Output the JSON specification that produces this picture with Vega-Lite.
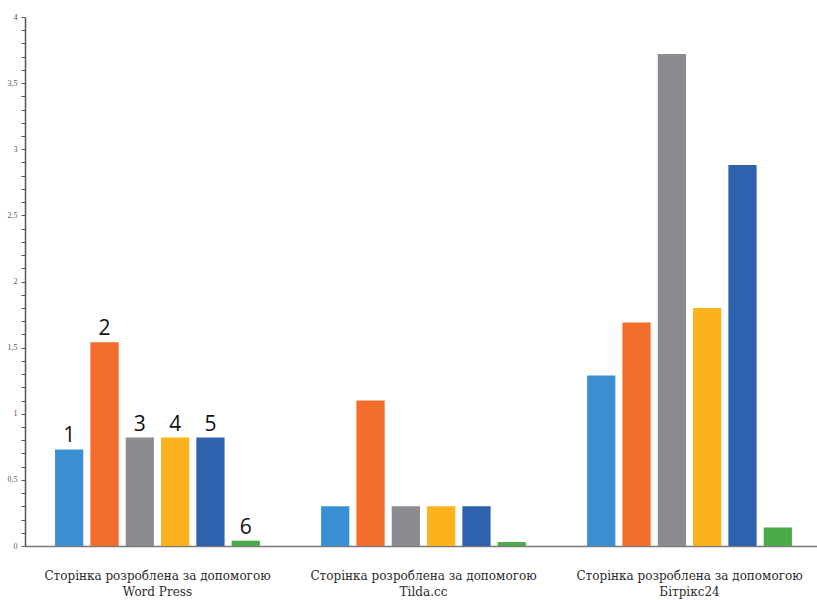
{
  "$schema": "https://vega.github.io/schema/vega-lite/v6.json",
  "autosize": "none",
  "width": 797,
  "height": 529,
  "padding": {"left": 25, "top": 17, "right": 0, "bottom": 54},
  "background": "white",
  "data": {
    "values": [
      {"g": "Сторінка розроблена за допомогою Word Press", "s": "1", "v": 0.73},
      {"g": "Сторінка розроблена за допомогою Word Press", "s": "2", "v": 1.54},
      {"g": "Сторінка розроблена за допомогою Word Press", "s": "3", "v": 0.82},
      {"g": "Сторінка розроблена за допомогою Word Press", "s": "4", "v": 0.82},
      {"g": "Сторінка розроблена за допомогою Word Press", "s": "5", "v": 0.82},
      {"g": "Сторінка розроблена за допомогою Word Press", "s": "6", "v": 0.04},
      {"g": "Сторінка розроблена за допомогою Tilda.cc", "s": "1", "v": 0.3},
      {"g": "Сторінка розроблена за допомогою Tilda.cc", "s": "2", "v": 1.1},
      {"g": "Сторінка розроблена за допомогою Tilda.cc", "s": "3", "v": 0.3},
      {"g": "Сторінка розроблена за допомогою Tilda.cc", "s": "4", "v": 0.3},
      {"g": "Сторінка розроблена за допомогою Tilda.cc", "s": "5", "v": 0.3},
      {"g": "Сторінка розроблена за допомогою Tilda.cc", "s": "6", "v": 0.03},
      {"g": "Сторінка розроблена за допомогою Бітрікс24", "s": "1", "v": 1.29},
      {"g": "Сторінка розроблена за допомогою Бітрікс24", "s": "2", "v": 1.69},
      {"g": "Сторінка розроблена за допомогою Бітрікс24", "s": "3", "v": 3.72},
      {"g": "Сторінка розроблена за допомогою Бітрікс24", "s": "4", "v": 1.8},
      {"g": "Сторінка розроблена за допомогою Бітрікс24", "s": "5", "v": 2.88},
      {"g": "Сторінка розроблена за допомогою Бітрікс24", "s": "6", "v": 0.14}
    ]
  },
  "encoding": {
    "x": {
      "field": "g",
      "type": "nominal",
      "sort": null,
      "title": null,
      "scale": {"paddingInner": 0.23, "paddingOuter": 0.113},
      "axis": {
        "labelAngle": 0,
        "ticks": false,
        "domainColor": "#7a7a7a",
        "domainWidth": 1.5,
        "labelFont": "DejaVu Serif",
        "labelFontSize": 12,
        "labelColor": "#2a2a2a",
        "labelLimit": 0,
        "labelPadding": 24,
        "labelLineHeight": 16,
        "labelExpr": "['Сторінка розроблена за допомогою', replace(datum.label, 'Сторінка розроблена за допомогою ', '')]"
      }
    },
    "xOffset": {"field": "s", "type": "nominal", "scale": {"paddingInner": 0.2, "paddingOuter": 0}},
    "y": {
      "field": "v",
      "type": "quantitative",
      "title": null,
      "scale": {"domain": [0, 4], "nice": false},
      "axis": {
        "values": [0,0.1,0.2,0.3,0.4,0.5,0.6,0.7,0.8,0.9,1,1.1,1.2,1.3,1.4,1.5,1.6,1.7,1.8,1.9,2,2.1,2.2,2.3,2.4,2.5,2.6,2.7,2.8,2.9,3,3.1,3.2,3.3,3.4,3.5,3.6,3.7,3.8,3.9,4],
        "labelExpr": "(round(datum.value*10)%5==0) ? replace(format(datum.value,'~g'), '.', ',') : ''",
        "grid": false,
        "domainColor": "#555555",
        "domainWidth": 1.5,
        "tickColor": "#555555",
        "tickSize": 4,
        "tickWidth": 1,
        "labelFont": "Liberation Serif",
        "labelFontSize": 8,
        "labelColor": "#555555",
        "labelPadding": 4
      }
    }
  },
  "layer": [
    {
      "mark": {"type": "bar"},
      "encoding": {
        "color": {
          "field": "s",
          "type": "nominal",
          "legend": null,
          "scale": {
            "domain": ["1","2","3","4","5","6"],
            "range": ["#3a8fd2", "#f26c2b", "#8a8c8f", "#fbb21c", "#2f62ae", "#4bab4a"]
          }
        }
      }
    },
    {
      "transform": [{"filter": "datum.g == 'Сторінка розроблена за допомогою Word Press'"}],
      "mark": {"type": "text", "baseline": "bottom", "dy": -3, "font": "Open Sans", "fontSize": 21, "color": "#111111"},
      "encoding": {"text": {"field": "s"}}
    }
  ],
  "config": {"view": {"stroke": null}}
}
